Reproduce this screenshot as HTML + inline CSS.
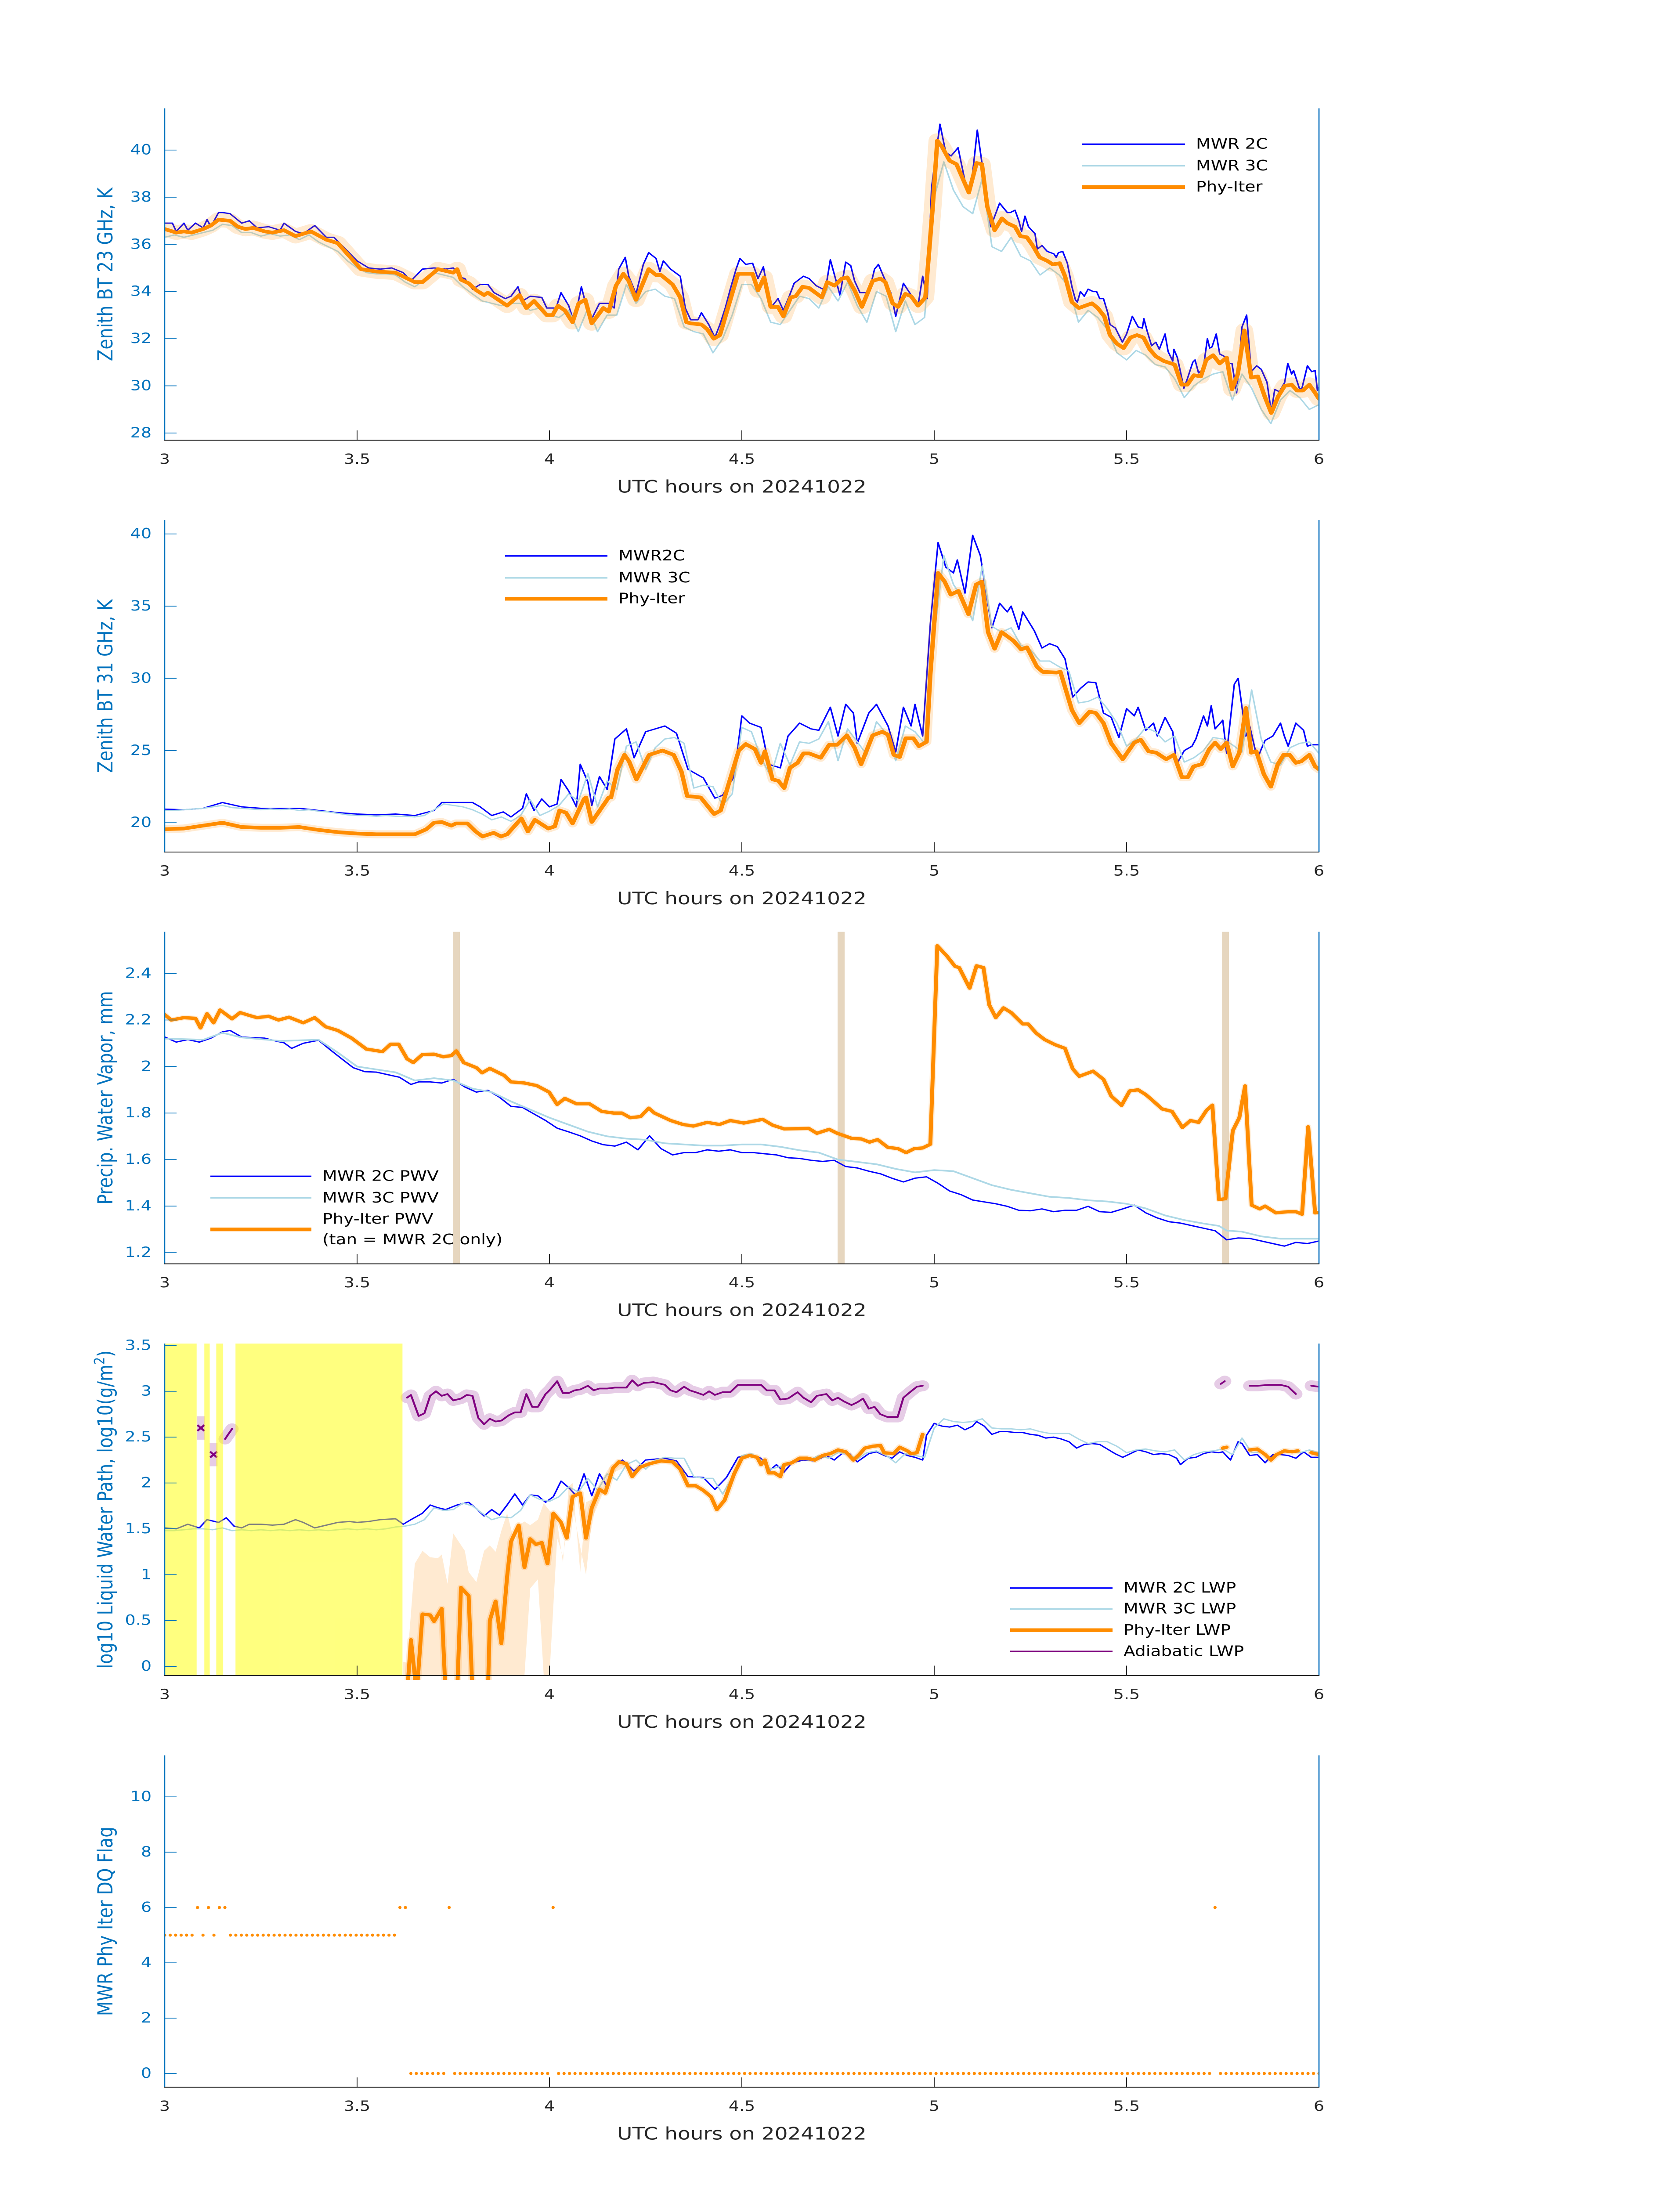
<!DOCTYPE html>
<html><head><meta charset="utf-8"><title>MWR retrievals 20241022</title>
<style>
html,body{margin:0;padding:0;background:#fff;width:100vw;height:100vh;overflow:hidden;}
svg{display:block;width:100vw;height:100vh;font-family:"DejaVu Sans","Liberation Sans",sans-serif;}
</style></head>
<body>
<svg id="fig" xmlns="http://www.w3.org/2000/svg" viewBox="0 0 3825 6000" preserveAspectRatio="none">
<rect x="0" y="0" width="3825" height="6000" fill="#ffffff"/>
<defs id="defs"></defs>
</svg>
<script>
// ---------------- DATA ----------------
const grid025 = [3,3.025,3.05,3.075,3.1,3.125,3.15,3.175,3.2,3.225,3.25,3.275,3.3,3.325,3.35,3.375,3.4,3.425,3.45,3.475,3.5,3.525,3.55,3.575,3.6,3.625,3.65,3.675,3.7,3.725,3.75,3.775,3.8,3.825,3.85,3.875,3.9,3.925,3.95,3.975,4,4.025,4.05,4.075,4.1,4.125,4.15,4.175,4.2,4.225,4.25,4.275,4.3,4.325,4.35,4.375,4.4,4.425,4.45,4.475,4.5,4.525,4.55,4.575,4.6,4.625,4.65,4.675,4.7,4.725,4.75,4.775,4.8,4.825,4.85,4.875,4.9,4.925,4.95,4.975,5,5.025,5.05,5.075,5.1,5.125,5.15,5.175,5.2,5.225,5.25,5.275,5.3,5.325,5.35,5.375,5.4,5.425,5.45,5.475,5.5,5.525,5.55,5.575,5.6,5.625,5.65,5.675,5.7,5.725,5.75,5.775,5.8,5.825,5.85,5.875,5.9,5.925,5.95,5.975,6];

// Panel 1: 23 GHz BT
const bt23BlueT = [3.0,3.02,3.03,3.05,3.06,3.08,3.1,3.11,3.12,3.14,3.15,3.17,3.2,3.22,3.24,3.27,3.3,3.31,3.34,3.36,3.39,3.42,3.44,3.47,3.5,3.53,3.56,3.59,3.62,3.64,3.67,3.7,3.73,3.75,3.77,3.78,3.8,3.82,
3.84,3.856,3.885,3.9,3.918,3.93,3.95,3.98,3.993,4.017,4.03,4.05,4.064,4.083,4.097,4.11,4.13,4.154,4.168,4.18,4.197,4.206,4.225,4.244,4.258,4.277,4.287,4.296,4.315,4.34,4.353,4.367,4.386,4.395,4.414,4.43,4.443,4.457,4.47,4.485,4.495,4.51,4.528,4.542,4.556,4.575,4.594,4.608,4.622,4.636,4.66,4.675,4.693,4.717,4.73,4.755,4.77,4.783,4.793,4.807,4.83,4.845,4.855,4.868,4.887,4.9,4.92,4.94,4.958,4.97,4.982,4.993,5.015,5.03,5.044,5.062,5.081,5.095,5.112,5.128,5.147,5.17,5.19,
5.198,5.21,5.22,5.227,5.236,5.245,5.262,5.268,5.28,5.294,5.311,5.317,5.323,5.334,5.346,5.358,5.367,5.372,5.38,5.39,5.4,5.413,5.422,5.43,5.44,5.451,5.457,5.471,5.489,5.5,5.515,5.53,5.541,5.545,5.553,5.565,5.576,5.585,5.6,5.608,5.62,5.623,5.632,5.64,5.649,5.658,5.672,5.678,5.687,5.699,5.71,5.716,5.722,5.733,5.742,5.754,5.763,5.774,5.786,5.8,5.812,5.824,5.838,5.85,5.865,5.876,5.885,5.897,5.911,5.919,5.929,5.934,5.949,5.955,5.97,5.981,5.99,5.996,6.0];
const bt23Blue = [36.9,36.9,36.55,36.9,36.6,36.9,36.7,37.05,36.75,37.35,37.35,37.3,36.9,37.0,36.7,36.75,36.6,36.9,36.55,36.45,36.8,36.3,36.3,35.8,35.3,35.0,34.95,35.0,34.8,34.45,34.95,35.0,34.95,35.0,34.6,34.55,34.1,34.3,
34.3,33.95,33.7,33.8,34.2,33.6,33.8,33.75,33.3,33.3,33.95,33.4,32.7,34.2,33.3,32.85,33.5,33.5,33.3,34.95,35.45,34.65,33.9,35.15,35.65,35.4,34.85,35.3,34.95,34.65,33.3,32.8,32.8,33.1,32.6,32.05,32.6,33.3,34.1,34.95,35.4,35.15,35.2,34.55,35.05,33.3,33.7,33.2,33.75,34.35,34.65,34.55,34.25,34.05,35.35,33.85,35.25,35.1,34.45,33.95,33.95,34.95,35.15,34.65,33.95,32.95,34.35,33.85,33.4,34.65,33.7,38.4,41.1,39.9,39.75,40.1,38.6,38.3,40.85,39.0,36.75,37.75,37.35,
37.35,37.45,37.0,36.55,37.2,36.75,36.45,35.8,35.95,35.7,35.6,35.45,35.65,35.7,35.2,34.2,33.65,33.55,34.0,33.8,34.1,34.0,34.0,33.7,33.7,33.1,32.6,32.45,31.85,32.2,32.95,32.5,32.45,32.85,32.35,31.7,31.85,31.55,32.2,31.45,31.05,31.55,31.2,30.6,29.9,30.3,31.0,31.1,30.55,30.7,32.0,31.6,31.65,32.2,31.35,31.25,30.95,30.95,29.7,32.5,33.0,30.6,30.85,30.7,30.15,28.9,29.85,29.75,30.15,30.95,30.5,30.65,29.9,29.85,30.85,30.6,30.65,29.8,29.95];
const bt23LightBlue = [36.3,36.4,36.3,36.4,36.5,36.6,36.85,36.8,36.5,36.5,36.35,36.45,36.35,36.4,36.2,36.4,36.1,35.9,35.7,35.3,35.0,34.8,34.75,34.75,34.7,34.4,34.2,34.5,34.8,34.7,34.6,34.2,33.9,33.6,33.5,33.4,33.5,33.5,33.2,33.3,33.0,32.9,33.2,32.3,33.3,32.3,33.0,33.0,34.3,33.5,34.0,34.1,33.8,33.7,32.5,32.3,32.2,31.4,32.0,33.0,34.3,34.3,33.7,32.7,32.6,33.2,33.8,33.7,33.3,34.2,33.6,34.4,33.4,32.7,34.0,33.8,32.3,33.6,32.6,32.9,38.0,39.5,38.3,37.6,37.3,38.8,35.9,35.7,36.3,35.5,35.3,34.7,35.0,34.7,34.2,32.7,33.2,32.9,32.4,31.4,31.1,31.5,31.3,30.9,30.8,30.3,29.5,30.0,30.3,30.5,30.6,29.4,30.5,29.9,29.0,28.4,29.4,29.8,29.5,29.0,29.2];
const bt23OrangeT = [3.0,3.03,3.05,3.07,3.1,3.12,3.14,3.17,3.19,3.21,3.23,3.26,3.28,3.31,3.34,3.38,3.42,3.45,3.48,3.51,3.55,3.6,3.65,3.67,3.71,3.75,3.76,3.77,3.79,3.81,
3.83,3.84,3.89,3.922,3.94,3.96,3.993,4.008,4.022,4.04,4.06,4.076,4.093,4.11,4.14,4.154,4.173,4.192,4.206,4.225,4.258,4.277,4.29,4.32,4.34,4.356,4.367,4.395,4.41,4.427,4.443,4.46,4.49,4.528,4.542,4.558,4.575,4.594,4.608,4.627,4.64,4.658,4.675,4.708,4.722,4.741,4.76,4.774,4.793,4.812,4.84,4.86,4.873,4.892,4.906,4.925,4.94,4.958,4.977,4.996,5.008,5.02,5.04,5.058,5.09,5.11,5.124,5.138,5.157,5.176,5.19,
5.21,5.224,5.241,5.256,5.274,5.294,5.308,5.326,5.34,5.358,5.376,5.393,5.41,5.425,5.442,5.457,5.474,5.492,5.51,5.527,5.544,5.56,5.576,5.597,5.625,5.643,5.658,5.675,5.693,5.707,5.725,5.742,5.76,5.774,5.789,5.806,5.824,5.841,5.859,5.876,5.894,5.911,5.929,5.943,5.958,5.975,5.99,6.0];
const bt23Orange = [36.65,36.5,36.55,36.5,36.65,36.8,37.05,37.0,36.75,36.65,36.7,36.55,36.5,36.6,36.35,36.55,36.2,36.05,35.5,34.95,34.85,34.8,34.4,34.4,34.95,34.8,34.95,34.5,34.35,34.05,
33.85,33.95,33.4,33.85,33.3,33.6,33.0,33.0,33.4,33.2,32.7,33.5,33.65,32.65,33.3,33.15,34.25,34.75,34.45,33.65,34.95,34.7,34.7,34.3,33.75,32.7,32.65,32.6,32.4,32.0,32.15,33.1,34.75,34.75,34.05,34.6,33.35,33.35,32.95,33.75,33.8,34.2,34.15,33.75,34.4,34.25,34.55,34.6,34.05,33.35,34.45,34.55,34.4,33.5,33.35,33.9,33.8,33.4,33.75,37.55,40.4,40.15,39.55,39.4,38.2,39.45,39.4,37.6,36.6,37.1,36.9,
36.75,36.35,36.3,35.95,35.45,35.3,35.15,35.2,34.65,33.55,33.3,33.4,33.5,33.3,32.95,32.15,31.8,31.6,32.05,32.15,32.05,31.55,31.25,31.05,30.9,30.05,30.05,30.45,30.4,31.1,31.3,30.95,31.2,29.85,30.5,32.35,30.35,30.4,29.55,28.85,29.55,30.0,30.05,29.8,29.8,30.05,29.7,29.45];
const bt23Ticks = [28,30,32,34,36,38,40];

// Panel 2: 31 GHz BT
const bt31BlueT = [3.0,3.05,3.1,3.15,3.2,3.25,3.3,3.35,3.4,3.45,3.5,3.55,3.6,3.65,3.7,3.72,3.75,3.8,3.82,3.85,3.88,3.9,3.93,3.94,3.96,3.98,4.0,4.02,4.03,4.05,4.07,4.08,4.1,4.11,4.13,4.15,4.17,4.2,4.22,4.25,4.3,4.33,4.36,4.4,4.43,4.45,4.48,4.5,
4.52,4.55,4.57,4.6,4.62,4.65,4.68,4.7,4.73,4.75,4.77,4.79,4.8,4.83,4.85,4.88,4.9,4.92,4.94,4.95,4.97,4.99,5.01,5.03,5.05,5.06,5.08,5.1,5.12,5.14,5.15,5.17,5.19,5.2,5.22,5.23,5.26,5.28,5.3,5.32,5.34,5.36,5.38,5.4,5.42,5.44,5.46,5.48,5.5,5.52,5.53,5.55,5.57,5.58,5.6,5.62,5.63,5.65,5.67,5.68,5.7,5.71,5.72,5.73,5.75,5.76,5.78,5.79,5.81,5.82,5.84,5.85,5.86,5.88,5.9,5.91,5.92,5.94,5.96,5.97,5.98,6.0];
const bt31Blue = [20.94,20.9,21.0,21.4,21.1,21.0,21.0,21.0,20.85,20.7,20.6,20.55,20.6,20.5,20.85,21.4,21.4,21.4,21.1,20.5,20.75,20.4,21.0,22.0,20.85,21.65,21.1,21.3,23.0,22.2,21.1,24.05,22.8,21.2,23.2,22.3,25.8,26.5,24.5,26.3,26.7,26.2,23.7,23.1,21.7,21.9,23.2,27.4,
26.9,26.6,24.05,23.8,26.0,26.9,26.5,26.4,28.0,26.0,28.2,27.6,25.5,27.6,28.2,26.7,24.9,28.0,26.7,28.2,26.0,33.8,39.4,37.7,37.3,38.2,35.9,39.9,38.5,35.1,33.5,35.2,34.6,35.0,33.4,34.6,33.3,32.1,32.4,32.2,31.35,28.7,29.3,29.75,29.7,27.6,27.3,25.9,27.9,27.4,28.0,26.4,26.9,26.0,27.3,26.3,24.05,25.0,25.3,25.8,27.4,26.7,28.1,26.5,27.1,24.8,29.6,30.0,26.0,26.7,24.4,25.1,25.7,26.0,26.9,26.0,25.3,26.9,26.4,25.3,25.4,25.4];
const bt31LightBlue = [20.85,20.85,20.9,20.95,21.0,21.1,21.2,21.05,21.0,20.95,20.9,20.95,20.9,20.95,20.85,20.9,20.8,20.75,20.65,20.55,20.5,20.5,20.45,20.5,20.45,20.45,20.4,20.5,20.9,21.3,21.2,21.1,20.9,20.6,20.2,20.4,20.1,20.5,21.6,20.5,20.8,21.2,22.0,21.5,23.4,21.1,22.9,22.3,25.3,25.6,23.7,25.2,25.8,25.9,25.5,22.4,22.6,22.5,21.2,22.0,26.6,26.3,24.5,23.2,25.5,24.0,25.6,25.5,25.8,27.0,24.3,26.5,25.6,24.7,27.0,26.2,24.3,26.7,26.3,25.5,33.0,38.5,36.5,35.5,34.0,37.8,33.6,33.2,33.5,32.3,32.0,31.2,31.2,30.8,30.5,28.3,28.4,28.7,27.9,26.9,25.3,25.8,26.6,26.3,25.6,26.0,24.2,24.5,25.0,25.9,25.8,25.4,24.9,29.2,25.8,24.2,24.0,25.2,25.5,25.6,24.8];
const bt31OrangeT = [3.0,3.05,3.1,3.15,3.2,3.25,3.3,3.35,3.4,3.45,3.5,3.55,3.6,3.65,3.68,3.7,3.72,3.745,3.757,3.787,3.808,3.826,3.855,3.874,3.89,3.927,3.944,3.962,3.997,4.014,4.026,4.043,4.06,4.09,4.095,4.11,4.154,4.16,4.177,4.195,4.207,4.226,4.259,4.294,4.323,4.343,4.358,4.393,4.428,4.445,4.492,4.51,
4.534,4.55,4.56,4.58,4.595,4.61,4.625,4.645,4.66,4.675,4.705,4.727,4.748,4.773,4.793,4.81,4.84,4.865,4.88,4.895,4.91,4.926,4.946,4.96,4.98,4.99,5.01,5.027,5.043,5.063,5.089,5.109,5.124,5.14,5.157,5.175,5.206,5.226,5.241,5.267,5.282,5.318,5.328,5.358,5.377,5.404,5.42,5.44,5.46,5.49,5.52,5.537,5.557,5.577,5.603,5.623,5.644,5.659,5.674,5.695,5.715,5.73,5.745,5.76,5.776,5.793,5.81,5.824,5.837,5.857,5.875,5.893,5.908,5.924,5.94,5.954,5.975,5.99,6.0];
const bt31Orange = [19.55,19.6,19.8,20.0,19.7,19.65,19.65,19.7,19.5,19.35,19.25,19.2,19.2,19.2,19.55,20.0,20.05,19.8,19.95,19.95,19.4,19.05,19.3,19.05,19.2,20.3,19.4,20.2,19.6,19.75,20.85,20.7,19.95,21.65,21.75,20.05,21.75,21.75,23.7,24.7,24.25,23.0,24.7,25.0,24.7,23.55,21.85,21.75,20.6,20.85,25.0,25.45,
25.1,24.15,24.95,23.0,22.9,22.4,23.8,24.15,24.8,24.8,24.5,25.4,25.4,26.05,25.2,24.05,26.05,26.3,26.1,24.7,24.55,25.85,25.85,25.3,25.6,30.3,37.3,36.7,35.8,36.05,34.45,36.5,36.7,33.2,32.05,33.2,32.6,32.0,32.15,30.8,30.45,30.4,30.45,27.8,26.9,27.7,27.6,26.9,25.5,24.4,25.55,25.75,24.95,24.85,24.4,24.7,23.15,23.15,23.9,24.05,25.1,25.55,25.1,25.55,23.9,24.85,27.95,24.85,24.95,23.35,22.5,24.05,24.7,24.7,24.15,24.25,24.7,23.9,23.7];
const bt31Ticks = [20,25,30,35,40];

// Panel 3: PWV
const pwvBlueT = [3.0,3.03,3.06,3.09,3.12,3.15,3.17,3.2,3.23,3.26,3.29,3.31,3.33,3.36,3.4,3.43,3.46,3.49,3.52,3.55,3.58,3.61,3.64,3.66,3.69,3.72,3.75,3.78,3.81,3.84,3.87,3.9,3.93,3.96,3.99,4.02,4.05,4.08,4.11,4.14,4.17,4.2,4.23,4.26,4.29,4.32,4.35,4.38,4.41,4.44,4.47,4.5,4.53,4.56,4.59,4.62,4.65,4.68,4.71,4.74,4.77,4.8,4.83,4.86,4.89,4.92,4.95,4.98,5.01,5.04,5.07,5.1,5.13,5.16,5.19,5.22,5.25,5.28,5.31,5.34,5.37,5.4,5.43,5.46,5.49,5.52,5.55,5.58,5.61,5.64,5.67,5.7,5.73,5.76,5.79,5.82,5.85,5.88,5.91,5.94,5.97,6.0];
const pwvBlue = [2.127,2.105,2.116,2.105,2.122,2.149,2.155,2.127,2.124,2.122,2.109,2.102,2.078,2.1,2.113,2.072,2.033,1.995,1.978,1.976,1.965,1.954,1.923,1.934,1.934,1.929,1.945,1.912,1.89,1.898,1.868,1.829,1.824,1.796,1.768,1.735,1.719,1.702,1.68,1.664,1.658,1.675,1.642,1.702,1.647,1.62,1.63,1.63,1.642,1.636,1.642,1.63,1.63,1.625,1.62,1.608,1.605,1.597,1.592,1.597,1.57,1.564,1.55,1.539,1.52,1.504,1.52,1.526,1.498,1.465,1.449,1.426,1.418,1.41,1.399,1.382,1.38,1.388,1.376,1.382,1.382,1.399,1.376,1.373,1.388,1.404,1.371,1.349,1.333,1.327,1.316,1.305,1.294,1.255,1.263,1.261,1.25,1.239,1.228,1.244,1.239,1.25];
const pwvLightBlueT = [3.0,3.1,3.15,3.2,3.3,3.4,3.45,3.5,3.6,3.65,3.7,3.75,3.8,3.85,3.9,4.0,4.05,4.1,4.15,4.2,4.25,4.3,4.35,4.4,4.45,4.5,4.55,4.6,4.65,4.7,4.75,4.8,4.85,4.9,4.95,5.0,5.05,5.1,5.15,5.2,5.25,5.3,5.35,5.4,5.45,5.5,5.55,5.6,5.65,5.7,5.74,5.76,5.8,5.85,5.9,5.95,6.0];
const pwvLightBlue = [2.12,2.115,2.145,2.125,2.11,2.115,2.06,2.0,1.975,1.94,1.95,1.94,1.905,1.89,1.85,1.78,1.75,1.72,1.7,1.69,1.685,1.67,1.665,1.66,1.66,1.665,1.665,1.655,1.64,1.63,1.6,1.59,1.58,1.56,1.545,1.555,1.55,1.52,1.49,1.47,1.455,1.44,1.435,1.425,1.42,1.41,1.39,1.36,1.34,1.325,1.315,1.295,1.29,1.27,1.26,1.26,1.26];
const pwvOrangeT = [3.0,3.017,3.05,3.08,3.093,3.11,3.127,3.144,3.175,3.196,3.217,3.24,3.27,3.296,3.323,3.36,3.39,3.418,3.45,3.486,3.524,3.566,3.587,3.608,3.63,3.646,3.67,3.7,3.724,3.745,3.758,3.777,3.81,3.825,3.845,3.882,3.9,3.935,3.967,3.999,4.02,4.04,4.07,4.104,4.136,4.167,4.188,4.21,4.237,4.258,4.273,4.315,4.347,4.374,4.41,4.442,4.47,4.505,4.554,4.58,4.61,4.674,4.695,4.727,4.748,4.786,4.81,4.832,4.853,4.879,4.906,4.927,4.948,4.97,4.99,5.008,5.033,5.054,5.065,5.092,5.11,5.128,5.143,5.16,5.18,5.2,5.23,5.244,5.265,5.287,5.314,5.34,5.36,5.377,5.413,5.44,5.46,5.487,5.508,5.53,5.55,5.567,5.592,5.618,5.645,5.666,5.687,5.708,5.723,5.74,5.757,5.776,5.793,5.808,5.825,5.846,5.86,5.888,5.92,5.94,5.956,5.972,5.99,6.0];
const pwvOrange = [2.223,2.2,2.21,2.207,2.166,2.227,2.188,2.243,2.205,2.232,2.221,2.21,2.216,2.2,2.212,2.188,2.21,2.171,2.155,2.122,2.075,2.064,2.096,2.096,2.033,2.017,2.052,2.053,2.042,2.047,2.067,2.017,1.995,1.973,1.992,1.962,1.934,1.929,1.918,1.89,1.837,1.863,1.84,1.84,1.807,1.8,1.8,1.78,1.785,1.821,1.8,1.768,1.751,1.744,1.76,1.751,1.768,1.757,1.773,1.748,1.732,1.734,1.713,1.73,1.713,1.691,1.689,1.675,1.686,1.653,1.647,1.63,1.647,1.65,1.666,2.519,2.475,2.431,2.425,2.337,2.433,2.425,2.265,2.21,2.252,2.232,2.183,2.183,2.144,2.116,2.094,2.078,1.99,1.958,1.98,1.945,1.873,1.833,1.895,1.9,1.879,1.855,1.818,1.807,1.738,1.768,1.76,1.812,1.834,1.428,1.432,1.724,1.78,1.917,1.404,1.388,1.4,1.371,1.376,1.376,1.365,1.741,1.371,1.373];
const pwvTanHours = [3.758,4.758,5.757];
const pwvTicks = [1.2,1.4,1.6,1.8,2,2.2,2.4];

// Panel 4: LWP (log10)
const lwpBlueT = [3.0,3.03,3.06,3.09,3.11,3.14,3.16,3.18,3.2,3.22,3.25,3.28,3.31,3.34,3.36,3.39,3.42,3.45,3.48,3.5,3.53,3.56,3.6,3.62,3.64,3.67,3.69,3.71,3.73,3.76,3.79,3.81,3.83,3.85,3.87,3.89,3.91,3.93,3.95,3.97,3.99,4.01,4.03,4.05,4.07,4.09,4.11,4.13,4.15,4.17,4.19,4.22,4.25,4.3,4.33,4.36,4.4,4.43,4.46,4.49,4.51,
4.52,4.55,4.57,4.59,4.61,4.63,4.66,4.69,4.72,4.74,4.76,4.78,4.8,4.83,4.85,4.87,4.89,4.91,4.93,4.95,4.97,4.98,5.0,5.02,5.04,5.06,5.08,5.1,5.11,5.13,5.15,5.17,5.19,5.21,5.23,5.25,5.27,5.29,5.31,5.33,5.35,5.37,5.39,5.41,5.43,5.45,5.47,5.49,5.51,5.53,5.55,5.57,5.59,5.61,5.63,5.64,5.66,5.68,5.7,5.72,5.74,5.75,5.77,5.79,5.8,5.82,5.84,5.86,5.88,5.9,5.92,5.94,5.96,5.98,6.0];
const lwpBlue = [1.51,1.5,1.55,1.51,1.6,1.57,1.62,1.53,1.51,1.55,1.55,1.54,1.55,1.6,1.57,1.51,1.54,1.57,1.58,1.57,1.58,1.6,1.61,1.55,1.6,1.67,1.76,1.73,1.71,1.76,1.79,1.72,1.64,1.71,1.65,1.76,1.88,1.76,1.87,1.86,1.79,1.85,2.02,1.95,1.86,2.1,1.86,2.1,1.96,2.2,2.25,2.13,2.25,2.27,2.24,2.07,2.06,1.93,2.06,2.28,2.3,
2.3,2.27,2.13,2.2,2.12,2.22,2.25,2.24,2.3,2.25,2.32,2.32,2.23,2.32,2.34,2.3,2.27,2.34,2.3,2.28,2.25,2.52,2.65,2.62,2.61,2.63,2.58,2.62,2.67,2.62,2.53,2.56,2.56,2.55,2.55,2.53,2.52,2.49,2.5,2.48,2.45,2.38,2.42,2.43,2.42,2.37,2.32,2.28,2.32,2.36,2.34,2.31,2.32,2.31,2.27,2.2,2.27,2.28,2.32,2.34,2.33,2.34,2.25,2.45,2.43,2.3,2.31,2.22,2.31,2.31,2.3,2.27,2.34,2.28,2.28];
const lwpLightBlue = [1.48,1.48,1.49,1.5,1.5,1.49,1.51,1.48,1.49,1.48,1.49,1.48,1.49,1.48,1.49,1.48,1.49,1.48,1.49,1.5,1.49,1.5,1.49,1.5,1.52,1.53,1.55,1.6,1.73,1.7,1.71,1.78,1.75,1.67,1.6,1.63,1.62,1.7,1.87,1.82,1.8,1.85,1.96,1.9,2.05,1.92,2.1,2.03,2.2,2.25,2.15,2.25,2.28,2.27,2.27,2.07,2.05,2.05,1.88,2.06,2.3,2.32,2.25,2.15,2.18,2.22,2.26,2.25,2.3,2.27,2.33,2.32,2.26,2.33,2.35,2.3,2.22,2.32,2.3,2.28,2.6,2.7,2.67,2.66,2.67,2.7,2.6,2.59,2.59,2.58,2.59,2.56,2.54,2.54,2.54,2.48,2.43,2.45,2.45,2.4,2.33,2.36,2.37,2.35,2.34,2.36,2.25,2.31,2.34,2.35,2.37,2.31,2.49,2.33,2.34,2.25,2.33,2.35,2.33,2.36,2.33];
const lwpOrangeT = [3.63,3.64,3.655,3.67,3.69,3.7,3.72,3.73,3.76,3.77,3.79,3.8,3.84,3.845,3.86,3.875,3.89,3.9,3.92,3.935,3.95,3.965,3.98,3.995,4.01,4.03,4.045,4.06,4.08,4.095,4.11,4.13,4.145,4.165,4.18,4.2,4.215,4.235,4.26,4.29,4.32,4.34,4.36,4.38,4.4,4.42,4.435,4.455,4.48,4.5,4.52,4.54,4.55,4.56,4.57,4.585,4.6,4.61,4.63,4.65,4.67,4.69,4.71,4.73,4.75,4.77,4.79,4.805,4.82,4.84,4.86,4.87,4.895,4.91,4.93,4.94,4.955,4.97,5.5,5.75,5.76,5.79,5.82,5.84,5.86,5.875,5.89,5.91,5.93,5.945,5.96,5.98,6.0];
const lwpOrange = [-0.3,0.29,-0.3,0.57,0.56,0.49,0.63,-0.3,-0.3,0.86,0.77,-0.3,-0.3,0.5,0.71,0.25,0.98,1.36,1.54,1.08,1.39,1.33,1.35,1.12,1.67,1.57,1.4,1.85,1.89,1.4,1.73,1.93,1.89,2.16,2.23,2.21,2.07,2.17,2.21,2.24,2.23,2.15,1.97,1.97,1.92,1.85,1.71,1.81,2.1,2.27,2.3,2.28,2.2,2.25,2.11,2.11,2.07,2.2,2.22,2.27,2.27,2.25,2.3,2.32,2.36,2.34,2.25,2.31,2.38,2.4,2.41,2.33,2.32,2.39,2.35,2.32,2.33,2.53,null,2.38,2.39,null,2.36,2.37,2.31,2.25,2.31,2.35,2.34,2.35,null,2.33,2.31];
const lwpBandT = [3.62,3.63,3.65,3.67,3.69,3.71,3.72,3.735,3.75,3.78,3.79,3.81,3.83,3.845,3.86,3.875,3.89,3.91,3.92,3.935,3.95,3.97,3.985,4.0,4.02,4.035,4.05,4.06,4.08,4.095,4.11,4.13,4.16,4.2];
const lwpBandHi = [0.05,0.04,1.12,1.26,1.19,1.18,1.22,0.9,1.45,1.26,1.03,0.92,1.26,1.32,1.25,1.48,1.67,1.34,1.54,1.58,1.54,1.6,1.78,1.7,1.58,1.13,1.96,2.0,1.03,1.79,1.82,2.0,2.2,2.24];
const lwpBandLo = [-0.1,-0.1,-0.1,-0.1,-0.1,-0.1,-0.1,-0.1,-0.1,-0.1,-0.1,-0.1,-0.1,-0.1,-0.1,-0.1,-0.1,-0.1,-0.1,-0.1,0.85,0.95,-0.1,-0.1,1.4,1.2,1.6,1.75,1.3,1.0,1.6,1.8,2.1,2.18];
const adiabT = [3.157,3.175,3.3,3.63,3.64,3.66,3.675,3.69,3.705,3.72,3.735,3.75,3.77,3.785,3.8,3.815,3.83,3.845,3.86,3.875,3.895,3.91,3.925,3.94,3.955,3.97,3.99,4.0,4.02,4.035,4.05,4.065,4.08,4.1,4.115,4.13,4.15,4.17,4.2,4.215,4.23,4.245,4.27,4.3,4.315,4.33,4.35,4.365,4.38,4.4,4.415,4.43,4.45,4.47,4.49,4.51,4.53,4.55,4.565,4.585,4.6,4.62,4.645,4.66,4.68,4.695,4.72,4.735,4.75,4.765,4.785,4.8,4.815,4.83,4.845,4.86,4.878,4.905,4.92,4.94,4.955,4.97,5.5,5.745,5.755,5.79,5.82,5.84,5.87,5.9,5.92,5.94,5.96,5.98,6.0];
const adiabV = [2.48,2.59,null,2.93,2.96,2.73,2.76,2.95,3.0,2.95,2.97,2.9,2.92,2.96,2.95,2.71,2.64,2.7,2.67,2.68,2.74,2.77,2.77,2.97,2.83,2.83,2.97,3.01,3.11,2.98,2.98,3.01,3.02,3.06,3.01,3.03,3.03,3.04,3.04,3.12,3.06,3.09,3.1,3.07,3.01,2.99,3.05,3.01,2.99,2.96,3.0,2.96,2.99,2.99,3.07,3.07,3.07,3.07,3.01,3.01,2.91,2.92,2.99,2.93,2.88,2.95,2.97,2.9,2.93,2.89,2.85,2.88,2.92,2.81,2.83,2.75,2.72,2.72,2.93,3.0,3.05,3.06,null,3.08,3.11,null,3.06,3.06,3.07,3.07,3.05,2.97,null,3.06,3.05];
const adiabMarkT = [3.094,3.127];
const adiabMarkV = [2.6,2.31];
const qcStartT = [3.0,3.103,3.134,3.184];
const qcEndT = [3.083,3.117,3.152,3.618];
const lwpTicks = [0,0.5,1,1.5,2,2.5,3,3.5];

// Panel 5: DQ flag, run-length encoded on a regular sample grid
const flagStartHour = 3.0;
const flagEndHour = 6.0;
const flagRunValues = [5,6,5,6,5,6,5,6,0,6,0,6,0,6,0];
const flagRunCounts = [6,1,1,1,1,2,31,2,7,1,18,1,120,1,19];
const flagTicks = [0,2,4,6,8,10];

const xTicks = [3,3.5,4,4.5,5,5.5,6];
const xTickLabels = ['3','3.5','4','4.5','5','5.5','6'];

// ---------------- DRAWING ----------------
const NS = 'http://www.w3.org/2000/svg';
const svg = document.getElementById('fig');
const defs = document.getElementById('defs');
const X0 = 375, X1 = 3003, PH = 907;
const BLUE = '#0000ff', LBLUE = '#add8e6', ORANGE = '#ff8c00', PURPLE = '#800080', AXBLUE = '#0072bd';
function xs(t){ return X0 + (t-3)/(6-3)*(X1-X0); }
function mk(tag, attrs, parent){
  const e = document.createElementNS(NS, tag);
  for (const k in attrs) e.setAttribute(k, attrs[k]);
  (parent||svg).appendChild(e);
  return e;
}
function pathD(T, V, ys){
  let d = '', pen = false;
  const n = Math.min(T.length, V.length);
  for (let i=0;i<n;i++){
    if (V[i]===null || V[i]===undefined){ pen=false; continue; }
    d += (pen?'L':'M') + xs(T[i]).toFixed(1) + ' ' + ys(V[i]).toFixed(1);
    pen = true;
  }
  return d;
}
function makePanel(top, yMin, yMax, id){
  const ys = v => top + (yMax - v)/(yMax - yMin)*PH;
  const cp = mk('clipPath', {id:'clip'+id}, defs);
  mk('rect', {x:X0, y:top-2, width:X1-X0, height:PH+14}, cp);
  const g = mk('g', {'clip-path':'url(#clip'+id+')'});
  
  
  return {top, ys, g};
}
function line(P, T, V, color, width, name, opacity){
  const p = mk('path', {d:pathD(T,V,P.ys), fill:'none', stroke:color, 'stroke-width':width, 'stroke-linejoin':'round', 'stroke-linecap':'round', 'stroke-opacity':(opacity||1)}, P.g);
  
  
  return p;
}
function axes(P, ticks, tickFmt, ylabelParts, id){
  const bottom = P.top + PH;
  const ax = mk('g', {});
  
  
  const ls = mk('line', {x1:X0, y1:P.top, x2:X0, y2:bottom, stroke:AXBLUE, 'stroke-width':2.5}, ax);
  
  
  const rs = mk('line', {x1:X1, y1:P.top, x2:X1, y2:bottom, stroke:'#2e86c8', 'stroke-width':3}, ax);
  
  
  const bs = mk('line', {x1:X0-1, y1:bottom, x2:X1+1, y2:bottom, stroke:'#262626', 'stroke-width':2.5}, ax);
  
  
  for (let i=0;i<ticks.length;i++){
    const yy = P.ys(ticks[i]);
    const tk = mk('line', {x1:X0, y1:yy, x2:X0+27, y2:yy, stroke:AXBLUE, 'stroke-width':2}, ax);
    
    
    const tl = mk('text', {x:345, y:yy, 'text-anchor':'end', 'dominant-baseline':'central', 'font-size':38, fill:AXBLUE}, ax);
    tl.textContent = tickFmt(ticks[i]);
    
    
  }
  for (let i=0;i<xTicks.length;i++){
    const xx = xs(xTicks[i]);
    if (i>0 && i<xTicks.length-1){
      const tk = mk('line', {x1:xx, y1:bottom, x2:xx, y2:bottom-27, stroke:'#262626', 'stroke-width':2}, ax);
      
      
    }
    const tl = mk('text', {x:xx, y:bottom+64, 'text-anchor':'middle', 'font-size':38, fill:'#262626'}, ax);
    tl.textContent = xTickLabels[i];
    
    
  }
  const xl = mk('text', {x:1689, y:bottom+143, 'text-anchor':'middle', 'font-size':47, fill:'#262626'}, ax);
  xl.textContent = 'UTC hours on 20241022';
  
  
  const cy = P.top + PH/2;
  const yl = mk('text', {x:0, y:0, transform:'translate(256,'+cy+') rotate(-90)', 'text-anchor':'middle', 'font-size':47, fill:AXBLUE}, ax);
  
  
  for (const part of ylabelParts){
    const ts = mk('tspan', part.sup ? {'baseline-shift':'super','font-size':32} : {}, yl);
    ts.textContent = part.t;
  }
}
function legendEntry(x1, x2, y, color, width, label, ty, name){
  const g = mk('g', {});
  
  
  const l = mk('line', {x1:x1, y1:y, x2:x2, y2:y, stroke:color, 'stroke-width':width}, g);
  
  
  if (label){
    const t = mk('text', {x:x2+25, y:(ty===undefined?y:ty), 'dominant-baseline':'central', 'font-size':39, fill:'#000'}, g);
    t.textContent = label;
    
    
  }
  return g;
}
const fmt1 = v => String(v);

// ---- Panel 1
const P1 = makePanel(296, 27.69, 41.77, 1);
line(P1, bt23BlueT, bt23Blue, BLUE, 3.5, 'series-mwr2c-23ghz');
line(P1, grid025, bt23LightBlue, LBLUE, 3.5, 'series-mwr3c-23ghz');
line(P1, bt23OrangeT, bt23Orange, ORANGE, 40, 'band-phyiter-23ghz', 0.18);
line(P1, bt23OrangeT, bt23Orange, ORANGE, 10, 'series-phyiter-23ghz');
axes(P1, bt23Ticks, fmt1, [{t:'Zenith BT 23 GHz, K'}], 1);
legendEntry(2463, 2698, 394, BLUE, 4, 'MWR 2C', undefined, 'legend-entry-mwr2c');
legendEntry(2463, 2698, 453, LBLUE, 4, 'MWR 3C', undefined, 'legend-entry-mwr3c');
legendEntry(2463, 2698, 511, ORANGE, 10, 'Phy-Iter', undefined, 'legend-entry-phyiter');

// ---- Panel 2
const P2 = makePanel(1421, 17.97, 40.96, 2);
line(P2, bt31BlueT, bt31Blue, BLUE, 3.5, 'series-mwr2c-31ghz');
line(P2, grid025, bt31LightBlue, LBLUE, 3.5, 'series-mwr3c-31ghz');
line(P2, bt31OrangeT, bt31Orange, ORANGE, 22, 'band-phyiter-31ghz', 0.18);
line(P2, bt31OrangeT, bt31Orange, ORANGE, 10, 'series-phyiter-31ghz');
axes(P2, bt31Ticks, fmt1, [{t:'Zenith BT 31 GHz, K'}], 2);
legendEntry(1150, 1383, 1519, BLUE, 4, 'MWR2C', undefined, 'legend-entry-mwr2c');
legendEntry(1150, 1383, 1579, LBLUE, 4, 'MWR 3C', undefined, 'legend-entry-mwr3c');
legendEntry(1150, 1383, 1636, ORANGE, 10, 'Phy-Iter', undefined, 'legend-entry-phyiter');

// ---- Panel 3
const P3 = makePanel(2546, 1.152, 2.579, 3);
for (let i=0;i<pwvTanHours.length;i++){
  const r = mk('rect', {x:xs(pwvTanHours[i])-8, y:P3.top, width:16, height:PH, fill:'#e6d6bf'}, P3.g);
  
  
}
line(P3, pwvBlueT, pwvBlue, BLUE, 3.5, 'series-mwr2c-pwv');
line(P3, pwvLightBlueT, pwvLightBlue, LBLUE, 4.5, 'series-mwr3c-pwv');
line(P3, pwvOrangeT, pwvOrange, ORANGE, 14, 'band-phyiter-pwv', 0.15);
line(P3, pwvOrangeT, pwvOrange, ORANGE, 9, 'series-phyiter-pwv');
axes(P3, pwvTicks, v => (v===2?'2':v.toFixed(1)), [{t:'Precip. Water Vapor, mm'}], 3);
legendEntry(479, 709, 3214, BLUE, 4, 'MWR 2C PWV', undefined, 'legend-entry-mwr2c-pwv');
legendEntry(479, 709, 3273, LBLUE, 4, 'MWR 3C PWV', undefined, 'legend-entry-mwr3c-pwv');
legendEntry(479, 709, 3359, ORANGE, 10, 'Phy-Iter PWV', 3331, 'legend-entry-phyiter-pwv');
const tanNote = mk('text', {x:734, y:3387, 'dominant-baseline':'central', 'font-size':39, fill:'#000'});
tanNote.textContent = '(tan = MWR 2C only)';



// ---- Panel 4
const P4 = makePanel(3671, -0.1, 3.52, 4);
line(P4, lwpBlueT, lwpBlue, BLUE, 3.5, 'series-mwr2c-lwp');
line(P4, grid025, lwpLightBlue, LBLUE, 3.5, 'series-mwr3c-lwp');
{
  let d = '';
  const n = Math.min(lwpBandT.length, lwpBandHi.length, lwpBandLo.length);
  for (let i=0;i<n;i++) d += (i?'L':'M') + xs(lwpBandT[i]).toFixed(1)+' '+P4.ys(lwpBandHi[i]).toFixed(1);
  for (let i=n-1;i>=0;i--) d += 'L' + xs(lwpBandT[i]).toFixed(1)+' '+P4.ys(lwpBandLo[i]).toFixed(1);
  const band = mk('path', {d:d+'Z', fill:ORANGE, 'fill-opacity':0.18}, P4.g);
  
  
}
line(P4, lwpOrangeT, lwpOrange, ORANGE, 16, 'band-phyiter-lwp', 0.18);
line(P4, lwpOrangeT, lwpOrange, ORANGE, 9, 'series-phyiter-lwp');
line(P4, adiabT, adiabV, PURPLE, 30, 'band-adiabatic-lwp', 0.2);
line(P4, adiabT, adiabV, PURPLE, 4.5, 'series-adiabatic-lwp');
for (let i=0;i<adiabMarkT.length;i++){
  const cx = xs(adiabMarkT[i]), cy = P4.ys(adiabMarkV[i]);
  const bx = mk('rect', {x:cx-9, y:cy-32, width:18, height:64, fill:PURPLE, 'fill-opacity':0.2}, P4.g);
  
  
  const m = mk('path', {d:`M${cx-8} ${cy-8}L${cx+8} ${cy+8}M${cx-8} ${cy+8}L${cx+8} ${cy-8}`, stroke:PURPLE, 'stroke-width':5, fill:'none'}, P4.g);
  
  
}
for (let i=0;i<qcStartT.length;i++){
  const r = mk('rect', {x:xs(qcStartT[i]), y:P4.top, width:xs(qcEndT[i])-xs(qcStartT[i]), height:PH, fill:'#ffff00', 'fill-opacity':0.5}, P4.g);
  
  
}
axes(P4, lwpTicks, v => String(v), [{t:'log10 Liquid Water Path, log10(g/m'},{t:'2',sup:true},{t:')'}], 4);
legendEntry(2300, 2533, 4339, BLUE, 4, 'MWR 2C LWP', undefined, 'legend-entry-mwr2c-lwp');
legendEntry(2300, 2533, 4396, LBLUE, 4, 'MWR 3C LWP', undefined, 'legend-entry-mwr3c-lwp');
legendEntry(2300, 2533, 4454, ORANGE, 10, 'Phy-Iter LWP', undefined, 'legend-entry-phyiter-lwp');
legendEntry(2300, 2533, 4512, PURPLE, 4, 'Adiabatic LWP', undefined, 'legend-entry-adiabatic-lwp');

// ---- Panel 5
const P5 = makePanel(4796, -0.5, 11.5, 5);
{
  let total = 0;
  for (const c of flagRunCounts) total += c;
  const dt = (flagEndHour - flagStartHour)/(total-1);
  let idx = 0;
  for (let r=0;r<flagRunValues.length;r++){
    for (let k=0;k<flagRunCounts[r];k++){
      const t = flagStartHour + idx*dt;
      const dot = mk('ellipse', {cx:xs(t), cy:P5.ys(flagRunValues[r]), rx:3.6, ry:4.2, fill:ORANGE}, P5.g);
      
      
      idx++;
    }
  }
}
axes(P5, flagTicks, v => String(v), [{t:'MWR Phy Iter DQ Flag'}], 5);
</script>
</body></html>
